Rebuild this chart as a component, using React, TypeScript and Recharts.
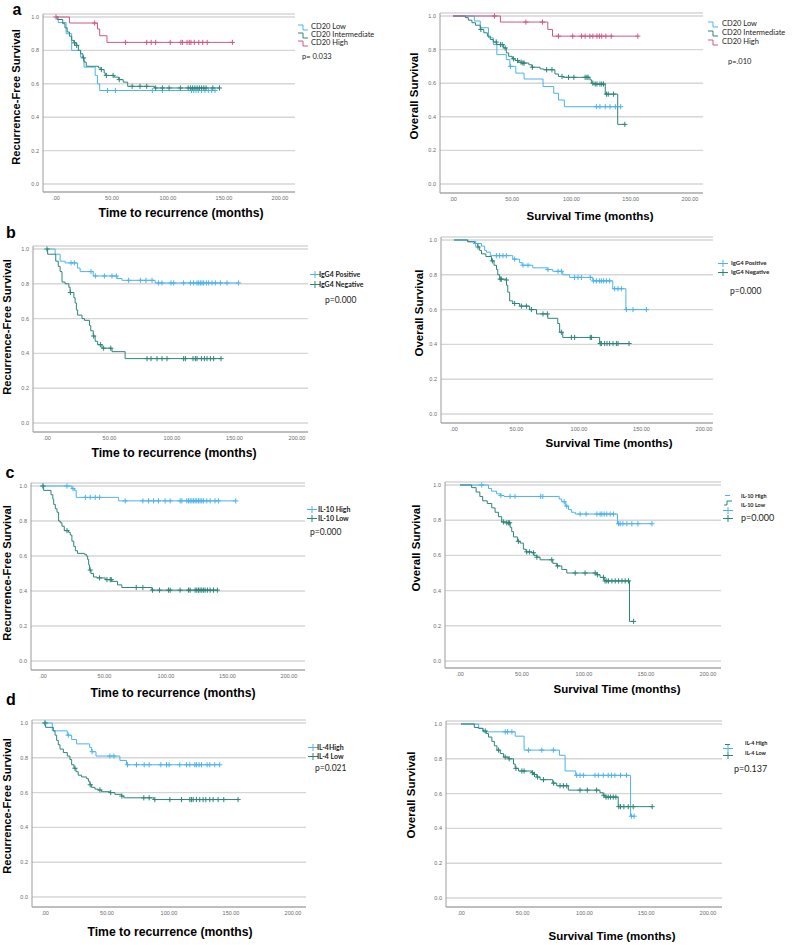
import React from 'react';
import { LineChart, Line, XAxis, YAxis, CartesianGrid } from 'recharts';

const BLUE = '#4db3ec';
const TEAL = '#2d857a';
const PINK = '#cc5888';

const xTicks = [0, 50, 100, 150, 200];
const yTicks = [0, 0.2, 0.4, 0.6, 0.8, 1.0];

// --- a: CD20, recurrence-free survival ---
const cd20RfsLowSteps = [[0, 1], [2, 0.967], [9, 0.9], [14, 0.8], [22, 0.76], [25, 0.7], [35, 0.65], [37, 0.6], [39, 0.56]];
const cd20RfsLowCens = [46, 53, 86, 95, 121, 123, 125, 127, 130, 133, 136, 139, 142];
const cd20RfsIntSteps = [[0, 1], [1, 0.985], [6, 0.96], [8, 0.935], [10, 0.91], [12, 0.885], [14, 0.86], [16, 0.845], [18, 0.83], [20, 0.8], [22, 0.78], [24, 0.755], [25, 0.73], [27, 0.705], [38, 0.695], [40, 0.685], [43, 0.665], [44, 0.65], [52, 0.64], [56, 0.625], [60, 0.61], [64, 0.585], [88, 0.575]];
const cd20RfsIntCens = [16.5, 18.5, 24.5, 40.5, 45, 51, 56.5, 68, 75, 81, 89, 95, 101, 111, 118, 120, 122, 124, 126, 128, 130, 132, 134, 140, 146];
const cd20RfsHighSteps = [[0, 1], [12, 0.964], [37, 0.928], [39, 0.888], [45.5, 0.848]];
const cd20RfsHighCens = [0, 34.5, 62, 81, 85, 89, 102, 111.5, 113, 117, 119, 120.5, 123.5, 127.5, 131, 135, 157.5];

// --- a: CD20, overall survival ---
const cd20OsLowSteps = [[0, 1], [18, 0.97], [23, 0.93], [30, 0.87], [34, 0.83], [37, 0.77], [45, 0.74], [48, 0.7], [53, 0.66], [60, 0.625], [76, 0.58], [85, 0.54], [89, 0.5], [94, 0.46]];
const cd20OsLowCens = [48.5, 121, 124, 128.5, 132.5, 137, 141.5];
const cd20OsIntSteps = [[0, 1], [10.5, 0.99], [13, 0.975], [16, 0.96], [19, 0.945], [23, 0.92], [26, 0.9], [29, 0.88], [31.5, 0.86], [34, 0.845], [37, 0.83], [42.5, 0.81], [45, 0.78], [47, 0.76], [50, 0.745], [52.5, 0.735], [55, 0.725], [58, 0.72], [64, 0.71], [66.5, 0.695], [73.5, 0.685], [76.5, 0.68], [86, 0.655], [89, 0.64], [93, 0.635], [115.5, 0.62], [117, 0.6], [118.5, 0.595], [128.5, 0.535], [139, 0.355]];
const cd20OsIntCens = [23.5, 36.5, 40, 41.5, 44, 51, 54.5, 57.5, 59, 60, 67, 79, 83.5, 92, 97.5, 102, 111.5, 113, 114, 118, 120, 121.5, 124, 125.5, 127, 129.5, 131, 135.5, 145];
const cd20OsHighSteps = [[0, 1], [40, 0.964], [80, 0.92], [84, 0.88]];
const cd20OsHighCens = [35, 61.5, 75.5, 89, 101, 108.5, 111.5, 115.5, 118, 121.5, 123.5, 125.5, 129, 133.5, 156];

// --- b: IgG4 ---
const igg4RfsPosSteps = [[0, 1], [6.5, 0.97], [10.5, 0.93], [14.5, 0.92], [24.5, 0.89], [26.5, 0.87], [37, 0.845], [56, 0.83], [60, 0.82], [86.5, 0.805]];
const igg4RfsPosCens = [19.2, 21.9, 35.2, 38.7, 45.9, 52, 55.5, 65.3, 74.7, 79.2, 84, 89.3, 92, 99.2, 101.3, 109.3, 114.7, 117.3, 120, 121.3, 122.7, 124, 125.3, 127.5, 129.3, 132, 134.7, 138.7, 144, 153.3];
const igg4RfsNegSteps = [[0, 1], [0.5, 0.97], [7, 0.93], [9, 0.9], [10.5, 0.87], [12, 0.81], [14.5, 0.8], [17.5, 0.78], [18.5, 0.75], [21.5, 0.72], [22.5, 0.69], [23.5, 0.65], [24.5, 0.62], [28, 0.6], [30, 0.59], [34, 0.56], [35, 0.53], [37, 0.5], [38.5, 0.47], [40.5, 0.45], [44, 0.43], [52, 0.41], [62.5, 0.37]];
const igg4RfsNegCens = [0, 18.7, 37.3, 42.7, 45.3, 51, 80, 83.2, 88, 92, 96, 109.3, 110.7, 116.8, 118.7, 120, 123.5, 125.9, 128, 130.7, 133.3, 139.2];
const igg4OsPosSteps = [[0, 1], [11, 0.99], [16.5, 0.98], [22, 0.965], [24.5, 0.94], [26, 0.93], [29, 0.91], [47, 0.89], [52.5, 0.87], [54.5, 0.855], [63, 0.84], [74.5, 0.83], [79, 0.82], [87, 0.8], [92.5, 0.785], [111, 0.765], [127, 0.72], [137.5, 0.6]];
const igg4OsPosCens = [17.3, 33.9, 36.5, 39.2, 41.9, 48.5, 55.2, 59.2, 75.2, 83.2, 85.9, 96.5, 99.2, 101.9, 109, 111.5, 113.9, 116.5, 117.9, 119.7, 121.9, 124.5, 128.5, 131.2, 133.9, 137.9, 143.2, 153.9];
const igg4OsNegSteps = [[0, 1], [11, 0.99], [16.5, 0.98], [19, 0.96], [20.5, 0.94], [22, 0.92], [25.5, 0.905], [30, 0.88], [32, 0.855], [34, 0.83], [35, 0.8], [36.5, 0.775], [41.5, 0.77], [42, 0.74], [43, 0.7], [44.5, 0.65], [47, 0.635], [52.5, 0.62], [60.5, 0.6], [66, 0.575], [75, 0.55], [83, 0.52], [84.5, 0.47], [87, 0.44], [116.5, 0.405]];
const igg4OsNegCens = [19.2, 30.7, 37, 37.9, 41.9, 48.5, 53.9, 57.9, 61.9, 71.2, 74.7, 85.9, 93.9, 96.5, 109, 109.9, 117, 117.9, 120.5, 122.4, 124.5, 127.2, 129.9, 131.2, 140];

// --- c: IL-10 ---
const il10RfsHighSteps = [[0, 1], [23.5, 0.985], [25.5, 0.975], [27, 0.935], [61.5, 0.915]];
const il10RfsHighCens = [0, 19.5, 24.4, 34.4, 38.4, 42.5, 46, 66.8, 81.2, 85.8, 89.9, 93.9, 99.3, 103.4, 111.5, 112.9, 116.9, 118.3, 119.6, 121, 122.3, 123.7, 125, 126.4, 127.7, 129.1, 130.4, 133.2, 135.9, 139.9, 142.6, 156.7];
const il10RfsLowSteps = [[0, 1], [0.5, 0.975], [6.5, 0.95], [8, 0.925], [8.7, 0.895], [10, 0.87], [11.4, 0.85], [12.7, 0.8], [14, 0.79], [15.4, 0.77], [17.3, 0.745], [20.8, 0.735], [22.2, 0.72], [23.5, 0.685], [25, 0.655], [26.3, 0.63], [28.1, 0.615], [33.6, 0.61], [35.2, 0.6], [36.3, 0.58], [37.1, 0.55], [37.9, 0.52], [39, 0.5], [41.1, 0.48], [43.8, 0.475], [50.6, 0.465], [56, 0.455], [60.6, 0.435], [64.1, 0.42], [88.5, 0.405]];
const il10RfsLowCens = [0, 19.5, 38.4, 46, 52, 54.7, 55.5, 75.8, 81.2, 89, 94.7, 102, 103.4, 111.5, 118.3, 119.6, 123.7, 125, 126.4, 127.7, 129.1, 130.4, 131.8, 133.7, 135.9, 138.6, 141.8];
const il10OsHighSteps = [[0, 1], [23, 0.98], [25.5, 0.965], [29.5, 0.95], [32.5, 0.94], [35.5, 0.935], [80, 0.92], [82, 0.905], [85, 0.88], [87.5, 0.86], [90, 0.845], [93, 0.835], [127, 0.78]];
const il10OsHighCens = [17.5, 33, 40.4, 44.4, 65.1, 66.8, 84, 86.1, 96.9, 101.7, 110.4, 113, 114.4, 116.3, 118.4, 121.1, 123.8, 127.9, 129.2, 131.4, 134.6, 138.6, 143.5, 154.8];
const il10OsLowSteps = [[0, 1], [9.4, 0.985], [13, 0.96], [16, 0.935], [18.3, 0.91], [22, 0.895], [25.6, 0.87], [28.3, 0.845], [31, 0.82], [33.6, 0.79], [37.2, 0.785], [40.4, 0.76], [41.7, 0.735], [43.1, 0.705], [46.3, 0.68], [48.5, 0.67], [51.1, 0.635], [53.3, 0.62], [57.9, 0.615], [59.7, 0.6], [61.9, 0.59], [64.6, 0.575], [74.8, 0.555], [78, 0.54], [82.1, 0.52], [86.1, 0.5], [110.4, 0.49], [113, 0.475], [116.3, 0.455], [136.7, 0.225]];
const il10OsLowCens = [35, 37.7, 39, 40, 47.1, 53.8, 56, 59.2, 62, 74, 78.6, 92.9, 100.9, 109, 110.8, 115.7, 117, 118.4, 119.8, 122.5, 125.2, 127.9, 130.6, 133.2, 135.9, 140];

// --- d: IL-4 ---
const il4RfsHighSteps = [[0, 1], [5.9, 0.955], [18, 0.93], [21.5, 0.905], [25.5, 0.88], [36, 0.86], [37.6, 0.835], [41.1, 0.81], [60.4, 0.785], [65.8, 0.76]];
const il4RfsHighCens = [0, 18.8, 38, 52.3, 55.6, 66.5, 73.8, 80, 84, 93.4, 98, 100.1, 108.7, 114.1, 116.8, 120.8, 122.1, 124.3, 126.2, 130.7, 132.9, 136.9, 140.9];
const il4RfsLowSteps = [[0, 1], [0.5, 0.975], [6.7, 0.955], [8.1, 0.93], [9.4, 0.9], [10.7, 0.875], [12.1, 0.85], [14.8, 0.83], [18, 0.81], [20.1, 0.79], [21.5, 0.76], [23.4, 0.74], [25, 0.72], [26.8, 0.7], [29.5, 0.69], [33.6, 0.68], [35, 0.665], [36.2, 0.645], [37.6, 0.63], [40.3, 0.62], [43, 0.615], [45.6, 0.605], [52.3, 0.6], [56.4, 0.59], [61.7, 0.58], [63.6, 0.57], [87.8, 0.56]];
const il4RfsLowCens = [0, 24.2, 36.5, 44.3, 53, 62, 79.7, 84, 88.6, 100.7, 110.1, 116.8, 118.1, 119.5, 122.1, 124.8, 127.5, 129.7, 132.9, 135.6, 139.6, 144.2, 155.7];
const il4OsHighSteps = [[0, 1], [14.3, 0.975], [17.8, 0.955], [43.9, 0.93], [51.1, 0.85], [79.7, 0.82], [84.3, 0.73], [92.9, 0.705], [137.3, 0.47]];
const il4OsHighCens = [35.8, 37.7, 41.2, 54.6, 65.4, 74.8, 93.7, 96.4, 99.1, 108.5, 111.2, 115.2, 119.2, 121.9, 124.6, 129.2, 134, 138, 140.2];
const il4OsLowSteps = [[0, 1], [10.8, 0.98], [14.3, 0.975], [17.8, 0.96], [20.5, 0.945], [22.3, 0.925], [25, 0.9], [27, 0.875], [29.1, 0.85], [31.8, 0.83], [34.5, 0.81], [38.5, 0.8], [42.5, 0.77], [43.9, 0.745], [46.6, 0.73], [57.3, 0.72], [58.7, 0.71], [61.4, 0.695], [64.1, 0.68], [74.3, 0.66], [77.5, 0.645], [86.9, 0.62], [112.5, 0.605], [115.2, 0.59], [116.5, 0.58], [127.3, 0.525]];
const il4OsLowCens = [19.6, 30.4, 35.8, 39, 44.5, 49.3, 51.1, 57.8, 59.5, 62, 66.8, 75, 80.2, 82.9, 85.6, 96.4, 102.3, 109.8, 115.7, 117.4, 119.2, 121.1, 123.3, 125.4, 127.8, 129.2, 131.9, 135.4, 139.4, 154.8];

// merge step points and censor times into one sorted series
function km(steps: number[][], cens: number[]) {
  const pts = steps.map(([t, s]) => ({ t, s, c: false }));
  cens.forEach((t) => {
    let s = 1;
    steps.forEach(([st, sv]) => {
      if (st <= t) s = sv;
    });
    pts.push({ t, s, c: true });
  });
  pts.sort((a, b) => a.t - b.t || (a.c ? 1 : 0) - (b.c ? 1 : 0));
  return pts;
}

const censorDot = (color: string) => (props: any) => {
  const { cx, cy, payload, index } = props;
  if (!payload || !payload.c || cx == null) return <g key={index} />;
  return (
    <g key={index}>
      <line x1={cx - 2.6} x2={cx + 2.6} y1={cy} y2={cy} stroke={color} strokeWidth={1} />
      <line x1={cx} x2={cx} y1={cy - 2.6} y2={cy + 2.6} stroke={color} strokeWidth={1} />
    </g>
  );
};

const tickStyle = { fontSize: 5.5, fill: '#6b6b6b', fontFamily: 'Liberation Sans, Arial, sans-serif' };

function KMChart({ g, series }: any) {
  const YW = 30, XH = 14, MT = 4, MR = 4;
  const top = g.y1 - 3;
  const k = g.y0 - g.y1;
  const yMin = -(g.axB - g.y0) / k;
  const yMax = 1 + (g.y1 - top) / k;
  const m = (g.x200 - g.x0) / 200;
  const xMin = (g.axL - g.x0) / m;
  const xMax = (g.axR - g.x0) / m;
  const w = YW + (g.axR - g.axL) + MR;
  const h = MT + (g.axB - top) + XH;
  return (
    <div style={{ position: 'absolute', left: g.axL - YW, top: top - MT }}>
      <LineChart width={w} height={h} margin={{ top: MT, right: MR, bottom: 0, left: 0 }}>
        <CartesianGrid vertical={false} stroke="#d6d6d6" strokeWidth={1.4} />
        <XAxis
          type="number"
          dataKey="t"
          domain={[xMin, xMax]}
          ticks={xTicks}
          allowDataOverflow
          tickFormatter={(v: number) => (v === 0 ? '.00' : v.toFixed(2))}
          height={XH}
          tickLine={false}
          tickSize={0}
          tickMargin={4}
          stroke="#9c9c9c"
          tick={tickStyle}
          interval={0}
        />
        <YAxis
          type="number"
          domain={[yMin, yMax]}
          ticks={yTicks}
          allowDataOverflow
          tickFormatter={(v: number) => v.toFixed(1)}
          width={YW}
          tickLine={false}
          tickSize={0}
          tickMargin={4}
          stroke="#9c9c9c"
          tick={tickStyle}
          interval={0}
        />
        {series.map((s: any, i: number) => (
          <Line
            key={i}
            data={s.data}
            dataKey="s"
            type="stepAfter"
            stroke={s.color}
            strokeWidth={1}
            dot={censorDot(s.color)}
            activeDot={false}
            isAnimationActive={false}
          />
        ))}
      </LineChart>
    </div>
  );
}

function Txt({ x, y, children, size, bold, font, rotate, anchor, color }: any) {
  const tx = anchor === 'start' ? '0' : '-50%';
  return (
    <div
      style={{
        position: 'absolute',
        left: x,
        top: y,
        transform: `translate(${tx}, -50%)${rotate ? ' rotate(-90deg)' : ''}`,
        transformOrigin: anchor === 'start' ? 'left center' : 'center center',
        fontSize: size,
        fontWeight: bold ? 700 : 400,
        fontFamily: font || 'Liberation Sans, Arial, sans-serif',
        whiteSpace: 'nowrap',
        lineHeight: 1,
        color: color || '#000',
      }}
    >
      {children}
    </div>
  );
}

function Mark({ x, y, type, color }: any) {
  let body: any = null;
  if (type === 'step') body = <path d="M0,2 H5 V7 H10" fill="none" stroke={color} strokeWidth={1} />;
  if (type === 'plus')
    body = (
      <g stroke={color} strokeWidth={1}>
        <line x1={0} x2={10} y1={4.5} y2={4.5} />
        <line x1={5} x2={5} y1={1} y2={8} />
      </g>
    );
  if (type === 'dash') body = <line x1={2} x2={7} y1={4.5} y2={4.5} stroke={color} strokeWidth={1} />;
  if (type === 'curve') body = <path d="M1,7 H4 V3 H9" fill="none" stroke={color} strokeWidth={1} />;
  return (
    <svg width={10} height={9} style={{ position: 'absolute', left: x, top: y - 4.5 }}>
      {body}
    </svg>
  );
}

const RFS = 'Recurrence-Free Survival';
const OS = 'Overall Survival';
const RFS_X = 'Time to recurrence (months)';
const OS_X = 'Survival Time (months)';
const LEG = 'Lato, Liberation Sans, sans-serif';

const panels = [
  {
    g: { axL: 43, axR: 295, y1: 17, y0: 184, axB: 192, x0: 56, x200: 280 },
    series: [
      { data: km(cd20RfsLowSteps, cd20RfsLowCens), color: BLUE },
      { data: km(cd20RfsIntSteps, cd20RfsIntCens), color: TEAL },
      { data: km(cd20RfsHighSteps, cd20RfsHighCens), color: PINK },
    ],
    yt: { x: 17, y: 97, text: RFS, size: 11.2, bold: true },
    xt: { x: 181, y: 213, text: RFS_X, size: 12.2, bold: true },
    marks: [{ x: 298, y: 27, type: 'step', color: BLUE }, { x: 298, y: 35, type: 'step', color: TEAL }, { x: 298, y: 43, type: 'step', color: PINK }],
    labels: [{ x: 311, y: 27, text: 'CD20 Low' }, { x: 311, y: 35, text: 'CD20 Intermediate' }, { x: 311, y: 43, text: 'CD20 High' }],
    lsize: 7.5, lbold: false,
    p: { x: 302, y: 57, text: 'p= 0.033', size: 7.5 },
  },
  {
    g: { axL: 440, axR: 703, y1: 16, y0: 184, axB: 193, x0: 453, x200: 690 },
    series: [
      { data: km(cd20OsLowSteps, cd20OsLowCens), color: BLUE },
      { data: km(cd20OsIntSteps, cd20OsIntCens), color: TEAL },
      { data: km(cd20OsHighSteps, cd20OsHighCens), color: PINK },
    ],
    yt: { x: 415, y: 96, text: OS, size: 11.5, bold: true },
    xt: { x: 590, y: 217, text: OS_X, size: 11.5, bold: true },
    marks: [{ x: 708, y: 24, type: 'step', color: BLUE }, { x: 708, y: 33, type: 'step', color: TEAL }, { x: 708, y: 42, type: 'step', color: PINK }],
    labels: [{ x: 722, y: 24, text: 'CD20 Low' }, { x: 722, y: 33, text: 'CD20 Intermediate' }, { x: 722, y: 42, text: 'CD20 High' }],
    lsize: 7.5, lbold: false,
    p: { x: 728, y: 62, text: 'p=.010', size: 7.5 },
  },
  {
    g: { axL: 33, axR: 308, y1: 249, y0: 423, axB: 432, x0: 47, x200: 297 },
    series: [
      { data: km(igg4RfsPosSteps, igg4RfsPosCens), color: BLUE },
      { data: km(igg4RfsNegSteps, igg4RfsNegCens), color: TEAL },
    ],
    yt: { x: 8, y: 327, text: RFS, size: 11.2, bold: true },
    xt: { x: 174, y: 453, text: RFS_X, size: 12.2, bold: true },
    marks: [{ x: 310, y: 274, type: 'plus', color: BLUE }, { x: 310, y: 284, type: 'plus', color: TEAL }],
    labels: [{ x: 319, y: 274, text: 'IgG4 Positive' }, { x: 319, y: 284, text: 'IgG4 Negative' }],
    lsize: 7, lbold: true,
    p: { x: 325, y: 300, text: 'p=0.000', size: 8.5 },
  },
  {
    g: { axL: 441, axR: 713, y1: 240, y0: 414, axB: 423, x0: 454, x200: 704 },
    series: [
      { data: km(igg4OsPosSteps, igg4OsPosCens), color: BLUE },
      { data: km(igg4OsNegSteps, igg4OsNegCens), color: TEAL },
    ],
    yt: { x: 420, y: 313, text: OS, size: 11.5, bold: true },
    xt: { x: 609, y: 444, text: OS_X, size: 11.5, bold: true },
    marks: [{ x: 718, y: 263, type: 'plus', color: BLUE }, { x: 718, y: 272, type: 'plus', color: TEAL }],
    labels: [{ x: 731, y: 263, text: 'IgG4 Positive' }, { x: 731, y: 272, text: 'IgG4 Negative' }],
    lsize: 6, lbold: true,
    p: { x: 730, y: 291, text: 'p=0.000', size: 8.5 },
  },
  {
    g: { axL: 31, axR: 305, y1: 486, y0: 661, axB: 670, x0: 43, x200: 289 },
    series: [
      { data: km(il10RfsHighSteps, il10RfsHighCens), color: BLUE },
      { data: km(il10RfsLowSteps, il10RfsLowCens), color: TEAL },
    ],
    yt: { x: 8, y: 573, text: RFS, size: 11.2, bold: true },
    xt: { x: 173, y: 693, text: RFS_X, size: 12.2, bold: true },
    marks: [{ x: 307, y: 509, type: 'plus', color: BLUE }, { x: 307, y: 518, type: 'plus', color: TEAL }],
    labels: [{ x: 318, y: 509, text: 'IL-10 High' }, { x: 318, y: 518, text: 'IL-10 Low' }],
    lsize: 7, lbold: true,
    p: { x: 310, y: 532, text: 'p=0.000', size: 8.5 },
  },
  {
    g: { axL: 445, axR: 721, y1: 485, y0: 661, axB: 668, x0: 460, x200: 708 },
    series: [
      { data: km(il10OsHighSteps, il10OsHighCens), color: BLUE },
      { data: km(il10OsLowSteps, il10OsLowCens), color: TEAL },
    ],
    yt: { x: 417, y: 548, text: OS, size: 11.5, bold: true },
    xt: { x: 617, y: 690, text: OS_X, size: 11.5, bold: true },
    marks: [
      { x: 723, y: 495, type: 'dash', color: BLUE },
      { x: 723, y: 502, type: 'curve', color: TEAL },
      { x: 723, y: 510, type: 'plus', color: BLUE },
      { x: 723, y: 518, type: 'plus', color: TEAL },
    ],
    labels: [{ x: 741, y: 497, text: 'IL-10 High' }, { x: 741, y: 506, text: 'IL-10 Low' }],
    lsize: 5.5, lbold: true,
    p: { x: 741, y: 517, text: 'p=0.000', size: 9 },
  },
  {
    g: { axL: 32, axR: 306, y1: 723, y0: 897, axB: 907, x0: 45, x200: 293 },
    series: [
      { data: km(il4RfsHighSteps, il4RfsHighCens), color: BLUE },
      { data: km(il4RfsLowSteps, il4RfsLowCens), color: TEAL },
    ],
    yt: { x: 8, y: 806, text: RFS, size: 11.2, bold: true },
    xt: { x: 170, y: 932, text: RFS_X, size: 12.2, bold: true },
    marks: [{ x: 308, y: 747, type: 'plus', color: BLUE }, { x: 308, y: 756, type: 'plus', color: TEAL }],
    labels: [{ x: 317, y: 747, text: 'IL-4High' }, { x: 317, y: 756, text: 'IL-4 Low' }],
    lsize: 7, lbold: true,
    p: { x: 315, y: 768, text: 'p=0.021', size: 8.5 },
  },
  {
    g: { axL: 446, axR: 722, y1: 724, y0: 898, axB: 907, x0: 461, x200: 708 },
    series: [
      { data: km(il4OsHighSteps, il4OsHighCens), color: BLUE },
      { data: km(il4OsLowSteps, il4OsLowCens), color: TEAL },
    ],
    yt: { x: 412, y: 795, text: OS, size: 11.5, bold: true },
    xt: { x: 612, y: 937, text: OS_X, size: 11.5, bold: true },
    marks: [
      { x: 723, y: 744, type: 'dash', color: TEAL },
      { x: 723, y: 748, type: 'plus', color: BLUE },
      { x: 723, y: 755, type: 'plus', color: TEAL },
    ],
    labels: [{ x: 745, y: 744, text: 'IL-4 High' }, { x: 745, y: 754, text: 'IL-4 Low' }],
    lsize: 5.5, lbold: true,
    p: { x: 734, y: 768, text: 'p=0.137', size: 9 },
  },
];

const letters = [
  { x: 17, y: 10, text: 'a' },
  { x: 11, y: 233, text: 'b' },
  { x: 10, y: 473, text: 'c' },
  { x: 11, y: 700, text: 'd' },
];

export default function App() {
  return (
    <div style={{ position: 'relative', width: 796, height: 945, background: '#fff', overflow: 'hidden' }}>
      <style>{'body{margin:0}'}</style>
      {panels.map((p, i) => (
        <React.Fragment key={i}>
          <KMChart g={p.g} series={p.series} />
          <Txt x={p.yt.x} y={p.yt.y} size={p.yt.size} bold={p.yt.bold} rotate>
            {p.yt.text}
          </Txt>
          <Txt x={p.xt.x} y={p.xt.y} size={p.xt.size} bold={p.xt.bold}>
            {p.xt.text}
          </Txt>
          {p.marks.map((mk: any, j: number) => (
            <Mark key={'m' + j} {...mk} />
          ))}
          {p.labels.map((lb: any, j: number) => (
            <Txt key={'l' + j} x={lb.x} y={lb.y} size={p.lsize} bold={p.lbold} font={LEG} anchor="start" color="#222">
              {lb.text}
            </Txt>
          ))}
          <Txt x={p.p.x} y={p.p.y} size={p.p.size} font={LEG} anchor="start" color="#222">
            {p.p.text}
          </Txt>
        </React.Fragment>
      ))}
      {letters.map((l, i) => (
        <Txt key={'L' + i} x={l.x} y={l.y} size={16} bold>
          {l.text}
        </Txt>
      ))}
    </div>
  );
}
